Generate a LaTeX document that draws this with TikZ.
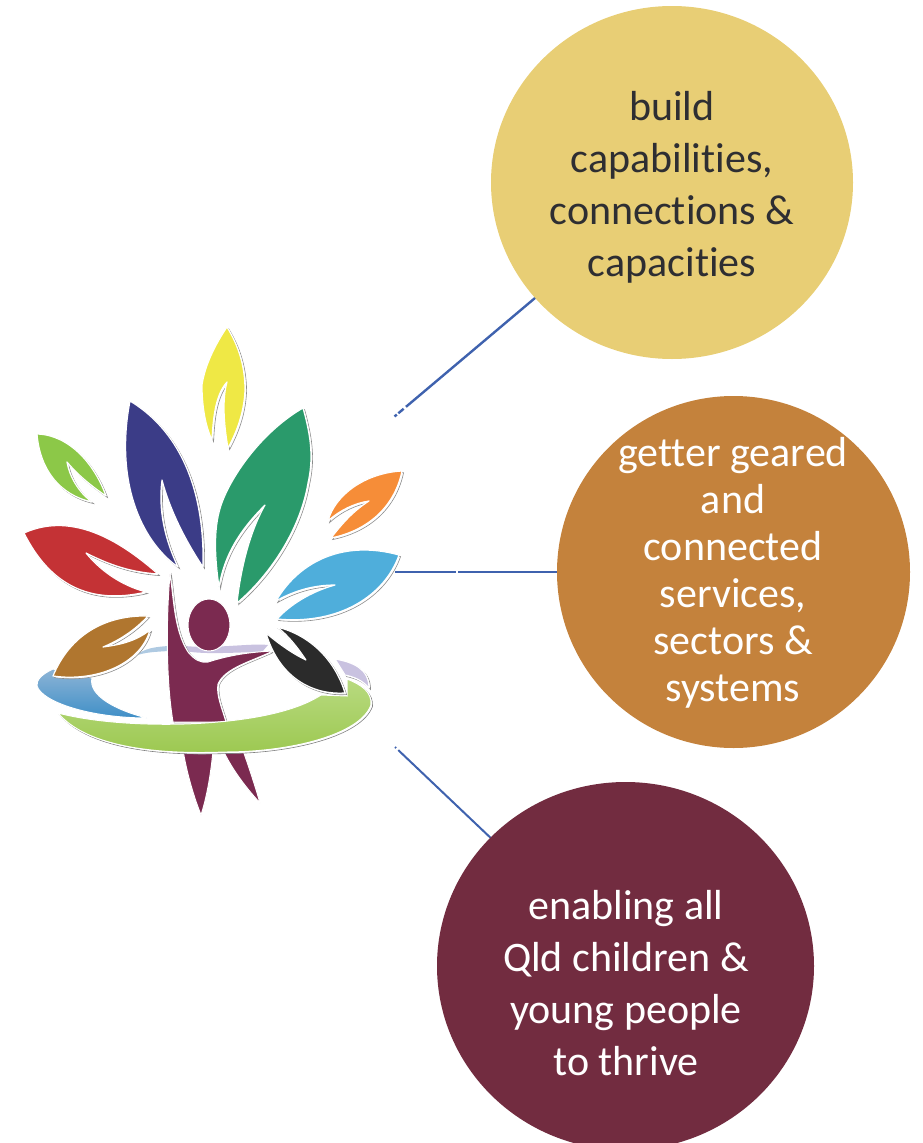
\documentclass[tikz,border=0pt]{standalone}
\usetikzlibrary{shapes.geometric,backgrounds}
\usepackage{fontspec}
\setmainfont{Carlito}[Ligatures=NoCommon]
\definecolor{linkblue}{HTML}{3F62AE}
\definecolor{cyellow}{HTML}{E8CE75}
\definecolor{corange}{HTML}{C4823C}
\definecolor{cmaroon}{HTML}{722C40}
\definecolor{person}{HTML}{7B2A50}
\definecolor{lilac}{HTML}{C9C2E0}
\definecolor{lyellow}{HTML}{EFE845}
\definecolor{lnavy}{HTML}{3B3C87}
\definecolor{lteal}{HTML}{2A9A6B}
\definecolor{lorange}{HTML}{F68D38}
\definecolor{lsky}{HTML}{4FAEDB}
\definecolor{lgreen}{HTML}{8CC848}
\definecolor{lred}{HTML}{C43235}
\definecolor{lbrown}{HTML}{B0762F}
\definecolor{lblack}{HTML}{2B2B2B}
\definecolor{ringtop}{HTML}{B8DA80}
\definecolor{ringbot}{HTML}{9CC850}
\definecolor{bandtop}{HTML}{8DB4D6}
\definecolor{bandbot}{HTML}{3F8FC7}
\definecolor{inkdark}{HTML}{2E2E32}
\newcommand{\leafshape}[2]{%
  \fill[white,draw=black!45,line width=.6pt,shift={(1.6,1.6)}] #2;
  \fill[#1,draw=white,line width=1.2pt,line join=round] #2;}
\tikzset{
  bubble/.style={ellipse,inner sep=0pt,minimum width=#1},
  link/.style={linkblue,line width=2pt},
  words/.style={font=\fontsize{42}{52}\selectfont,align=center,inner sep=0pt},
}
\begin{document}
\begin{tikzpicture}[x=1pt,y=-1pt]
\useasboundingbox (0,0) rectangle (922,1143);
\begin{scope}
\clip (0,0) rectangle (922,1143);
\node[bubble=362pt,minimum height=353pt,fill=cyellow] (yc) at (672,182.5) {};
\node[bubble=353pt,minimum height=352pt,fill=corange] (oc) at (733.5,572) {};
\node[bubble=377pt,minimum height=368pt,fill=cmaroon] (mc) at (625.5,966) {};
\end{scope}
\node[words,text=inkdark] (yt) at (672,187) {build\\capabilities,\\connections \&\\capacities};
\node[words,text=white,font=\fontsize{42}{47}\selectfont] (ot) at (733,573) {getter geared\\and\\connected\\services,\\sectors \&\\systems};
\node[words,text=white] (mt) at (626,983) {enabling all\\Qld children \&\\young people\\to thrive};
% connectors, drawn behind the bubbles
\coordinate (a1) at (394.5,416.5);
\coordinate (a2) at (395,572);
\coordinate (a3) at (395,747);
\begin{pgfonlayer}{background}
\draw[link,line width=2.4pt,dash pattern=on 3pt off 2pt on 7pt off 3pt on 900pt] (a1) -- (yc.center);
\draw[link,dash pattern=on 61pt off 2pt on 900pt] (a2) -- (oc.center);
\draw[link,dash pattern=on 1.5pt off 3pt on 900pt] (a3) -- (mc.center);
\end{pgfonlayer}
% bands
\fill[bandtop!70!white] (135,656) .. controls (145,648) and (155,647) .. (168,646) -- (168,651) .. controls (155,652) and (145,652) .. (135,656) -- cycle;
\fill[lilac] (185,646) .. controls (215,649) and (250,643) .. (268,645) -- (262,652) .. controls (240,652) and (205,655) .. (185,651) -- cycle;
\leafshape{lilac}{(335,659) .. controls (352,662) and (369,668) .. (369,688) .. controls (362,680) and (354,677) .. (345,675) -- cycle}
\shade[top color=bandtop,bottom color=bandbot,draw=white,line width=1pt] (53,669) .. controls (42,674) and (36,680) .. (37,686) .. controls (42,702) and (90,718) .. (147,718) .. controls (115,710) and (88,695) .. (92,678) -- cycle;
% person
\fill[white,draw=black!45,line width=.5pt,shift={(1.5,1)}] (170,574) .. controls (174,600) and (174,630) .. (188,652) .. controls (195,660) and (200,663) .. (208,662) .. controls (230,655) and (250,652) .. (273,651) .. controls (250,662) and (225,668) .. (218,684) .. controls (216,695) and (222,708) .. (226,722) -- (173,722) .. controls (166,680) and (166,620) .. (170,574) -- cycle;
\fill[person,draw=white,line width=1pt] (170,574) .. controls (174,600) and (174,630) .. (188,652) .. controls (195,660) and (200,663) .. (208,662) .. controls (230,655) and (250,652) .. (273,651) .. controls (250,662) and (225,668) .. (218,684) .. controls (216,695) and (222,708) .. (226,722) -- (173,722) .. controls (166,680) and (166,620) .. (170,574) -- cycle;
\fill[person,draw=white,line width=1pt] (209,625) ellipse [x radius=21,y radius=26];
\fill[person,draw=white,line width=1pt] (183,750) .. controls (187,775) and (195,800) .. (201,815) .. controls (206,800) and (211,775) .. (213,750) -- cycle;
\fill[person,draw=white,line width=1pt] (223,750) .. controls (232,770) and (248,790) .. (260,803) .. controls (255,785) and (248,765) .. (243,750) -- cycle;
% green ring
\fill[white,draw=black!50,line width=.6pt,shift={(1.5,1.5)}] (58,713) .. controls (100,724) and (160,726) .. (205,723) .. controls (250,720) and (295,712) .. (321,695) -- (347,696) -- (347,679) .. controls (362,685) and (372,692) .. (371,705) .. controls (360,735) and (290,752) .. (225,752) .. controls (150,755) and (85,745) .. (58,713) -- cycle;
\shade[top color=ringtop,bottom color=ringbot,draw=white,line width=1pt] (58,713) .. controls (100,724) and (160,726) .. (205,723) .. controls (250,720) and (295,712) .. (321,695) -- (347,696) -- (347,679) .. controls (362,685) and (372,692) .. (371,705) .. controls (360,735) and (290,752) .. (225,752) .. controls (150,755) and (85,745) .. (58,713) -- cycle;
% leaves
\leafshape{lblack}{(277,627) .. controls (310,635) and (335,660) .. (345,693) .. controls (315,695) and (280,680) .. (266,633) .. controls (280,645) and (295,655) .. (306,660) .. controls (298,648) and (288,635) .. (277,627) -- cycle}
\leafshape{lbrown}{(148,616) .. controls (105,615) and (70,635) .. (53,676) .. controls (95,682) and (140,665) .. (150,630) .. controls (135,642) and (118,645) .. (103,647) .. controls (120,640) and (135,630) .. (148,616) -- cycle}
\leafshape{lyellow}{(227,327) .. controls (238,345) and (245,365) .. (245,390) .. controls (244,415) and (235,435) .. (228,448) .. controls (224,425) and (222,400) .. (227,382) .. controls (215,395) and (213,420) .. (212,440) .. controls (205,425) and (202,405) .. (202,385) .. controls (205,365) and (215,345) .. (227,327) -- cycle}
\leafshape{lnavy}{(130,401) .. controls (170,425) and (205,475) .. (203,567) .. controls (185,540) and (170,510) .. (162,480) .. controls (158,510) and (165,540) .. (178,567) .. controls (140,540) and (115,480) .. (130,401) -- cycle}
\leafshape{lteal}{(303,408) .. controls (312,440) and (313,460) .. (308,483) .. controls (300,530) and (270,575) .. (237,603) .. controls (240,575) and (248,535) .. (265,505) .. controls (245,525) and (225,550) .. (219,587) .. controls (213,545) and (215,520) .. (223,500) .. controls (235,470) and (265,430) .. (303,408) -- cycle}
\leafshape{lorange}{(402,471) .. controls (395,505) and (370,530) .. (331,538) .. controls (345,520) and (355,510) .. (369,501) .. controls (355,503) and (340,510) .. (328,521) .. controls (335,495) and (365,473) .. (402,471) -- cycle}
\leafshape{lsky}{(399,555) .. controls (345,540) and (300,560) .. (276,601) .. controls (295,590) and (315,585) .. (335,585) .. controls (310,592) and (290,605) .. (277,619) .. controls (340,625) and (385,595) .. (399,555) -- cycle}
\leafshape{lgreen}{(37,434) .. controls (70,435) and (95,465) .. (106,496) .. controls (90,485) and (78,475) .. (67,462) .. controls (70,480) and (82,495) .. (92,502) .. controls (60,495) and (40,470) .. (37,434) -- cycle}
\leafshape{lred}{(24,533) .. controls (75,510) and (125,545) .. (158,574) .. controls (130,572) and (110,565) .. (86,553) .. controls (100,570) and (120,585) .. (146,592) .. controls (90,605) and (50,585) .. (24,533) -- cycle}
\end{tikzpicture}
\end{document}
